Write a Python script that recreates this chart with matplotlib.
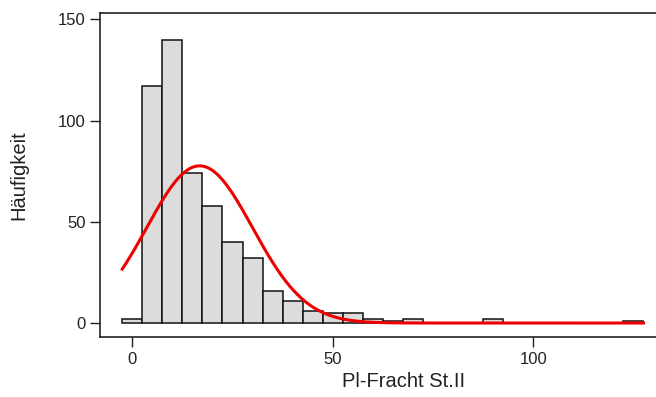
import numpy as np
import matplotlib

matplotlib.use("Agg")
import matplotlib.pyplot as plt

# histogram bins (centre of each 5-wide bin) and counts
bin_centers = [0, 5, 10, 15, 20, 25, 30, 35, 40, 45, 50, 55, 60, 65, 70, 90, 125]
counts = [2, 117, 140, 74, 58, 40, 32, 16, 11, 6, 5, 5, 2, 1, 2, 2, 1]
bin_width = 5

# fitted normal curve parameters (estimated)
curve_mean = 16.8
curve_sd = 13.2
curve_range = (-2.5, 127.5)

x_ticks = [0, 50, 100]
y_ticks = [0, 50, 100, 150]
x_label = "Pl-Fracht St.II"
y_label = "Häufigkeit"

plt.rcParams["font.family"] = ["Liberation Sans", "DejaVu Sans"]

fig = plt.figure(figsize=(6.56, 3.97), dpi=100)
ax = fig.add_axes([100 / 656, 60 / 397, 608 / 656, 324 / 397])

ax.bar(bin_centers, counts, width=bin_width, color="#dcdcdc",
       edgecolor="#111111", linewidth=1.1, zorder=2)

n_total = sum(counts)
xs = np.linspace(curve_range[0], curve_range[1], 400)
ys = n_total * bin_width * np.exp(-0.5 * ((xs - curve_mean) / curve_sd) ** 2) / (curve_sd * np.sqrt(2 * np.pi))
ax.plot(xs, ys, color="#ee0000", linewidth=2.2, zorder=3)

ax.set_xlim(-8.05, 143.6)
ax.set_ylim(-6.9, 153.2)
ax.set_xticks(x_ticks)
ax.set_yticks(y_ticks)

for side in ("left", "bottom", "top"):
    ax.spines[side].set_linewidth(1.1)
    ax.spines[side].set_color("#111111")
ax.spines["right"].set_visible(False)

ax.tick_params(axis="both", direction="out", length=7.5, width=1.0, pad=3,
               labelsize=12, colors="#222222")

ax.set_xlabel(x_label, fontsize=14.5, color="#222222", labelpad=4)
ax.set_ylabel(y_label, fontsize=14.5, color="#222222")
ax.yaxis.set_label_coords(-0.118, 0.5)

fig.savefig("out.png", dpi=100)
